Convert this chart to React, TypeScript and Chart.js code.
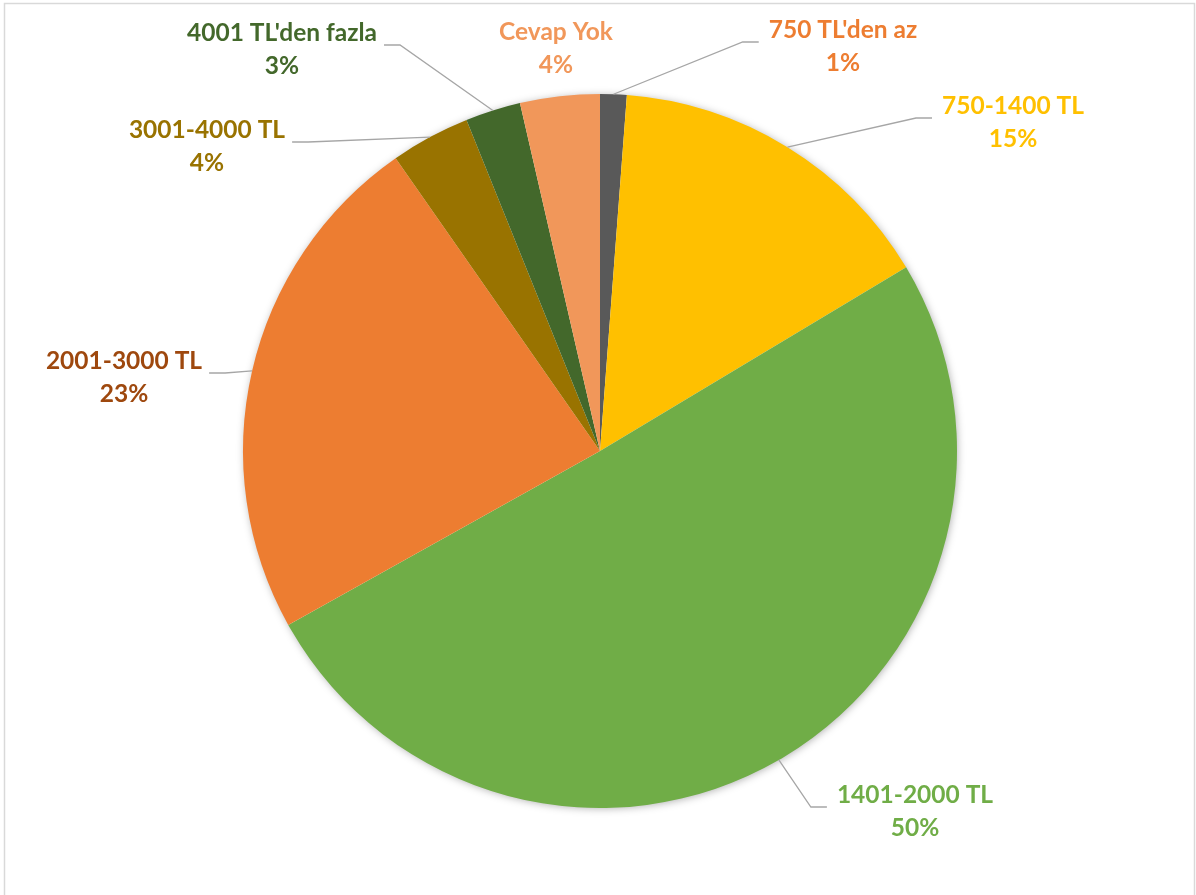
import React, { useEffect, useRef } from "react";
import { Chart, registerables } from "chart.js";

Chart.register(...registerables);

const categories = [
  "750 TL'den az",
  "750-1400 TL",
  "1401-2000 TL",
  "2001-3000 TL",
  "3001-4000 TL",
  "4001 TL'den fazla",
  "Cevap Yok",
];
const shares = [1.2, 15.2, 50.5, 23.4, 3.6, 2.5, 3.6];
const percentLabels = ["1%", "15%", "50%", "23%", "4%", "3%", "4%"];
const sliceColors = ["#595959", "#FFC000", "#70AD47", "#ED7D31", "#997300", "#43682B", "#F1975A"];
const labelColors = ["#ED7D31", "#FFC000", "#70AD47", "#9E480E", "#997300", "#43682B", "#F1975A"];
// label block centres (px in canvas)
const labelPositions: [number, number][] = [
  [843, 46],
  [1013, 122],
  [915, 811],
  [124, 377],
  [207, 146],
  [282, 49],
  [556, 48],
];
const showLeader = [true, true, true, true, true, true, false];

const FONT_SIZE = 24.5;
const FONT_FAMILY = "Lato, 'Open Sans', sans-serif";

const decorPlugin = {
  id: "decor",
  beforeDatasetsDraw(chart: any) {
    const meta = chart.getDatasetMeta(0);
    if (!meta.data.length) return;
    const a = meta.data[0];
    const { x, y, outerRadius } = a.getProps(["x", "y", "outerRadius"], true);
    const ctx = chart.ctx;
    ctx.save();
    ctx.shadowColor = "rgba(0,0,0,0.35)";
    ctx.shadowBlur = 9;
    ctx.shadowOffsetX = 1;
    ctx.shadowOffsetY = 1;
    ctx.fillStyle = "#ffffff";
    ctx.beginPath();
    ctx.arc(x, y, outerRadius - 1, 0, Math.PI * 2);
    ctx.fill();
    ctx.restore();
  },
  afterDraw(chart: any) {
    const ctx = chart.ctx;
    const meta = chart.getDatasetMeta(0);
    ctx.save();
    // frame
    ctx.strokeStyle = "#D9D9D9";
    ctx.lineWidth = 1.5;
    ctx.strokeRect(4.5, 3.5, 1190, 900);

    ctx.font = `bold ${FONT_SIZE}px ${FONT_FAMILY}`;
    ctx.textAlign = "center";
    ctx.textBaseline = "middle";
    meta.data.forEach((arc: any, i: number) => {
      const { x, y, startAngle, endAngle, outerRadius } = arc.getProps(
        ["x", "y", "startAngle", "endAngle", "outerRadius"],
        true
      );
      const mid = (startAngle + endAngle) / 2;
      const px = x + Math.cos(mid) * outerRadius;
      const py = y + Math.sin(mid) * outerRadius;
      const [lx, ly] = labelPositions[i];
      const w = Math.max(
        ctx.measureText(categories[i]).width,
        ctx.measureText(percentLabels[i]).width
      );
      if (showLeader[i]) {
        const endY = ly - 4;
        let endX: number, elbowX: number;
        if (lx > x) {
          endX = lx - w / 2 - 10;
          elbowX = endX - 16;
        } else {
          endX = lx + w / 2 + 7;
          elbowX = endX + 16;
        }
        ctx.strokeStyle = "#A6A6A6";
        ctx.lineWidth = 1.3;
        ctx.beginPath();
        ctx.moveTo(px, py);
        ctx.lineTo(elbowX, endY);
        ctx.lineTo(endX, endY);
        ctx.stroke();
      }
      ctx.fillStyle = labelColors[i];
      ctx.fillText(categories[i], lx, ly - 16);
      ctx.fillText(percentLabels[i], lx, ly + 17);
    });
    ctx.restore();
  },
};

export default function App() {
  const ref = useRef<HTMLCanvasElement | null>(null);
  useEffect(() => {
    if (!ref.current) return;
    const chart = new Chart(ref.current, {
      type: "pie",
      data: {
        labels: categories,
        datasets: [
          {
            data: shares,
            backgroundColor: sliceColors,
            borderWidth: 0,
          },
        ],
      },
      options: {
        animation: false,
        responsive: false,
        layout: { padding: { top: 94, bottom: 87, left: 243, right: 239 } },
        plugins: {
          legend: { display: false },
          tooltip: { enabled: false },
        },
      },
      plugins: [decorPlugin],
    });
    return () => chart.destroy();
  }, []);
  return (
    <div style={{ position: "fixed", left: 0, top: 0, width: 1196, height: 895, background: "#fff" }}>
      <canvas ref={ref} width={1196} height={895} style={{ width: 1196, height: 895 }} />
    </div>
  );
}
